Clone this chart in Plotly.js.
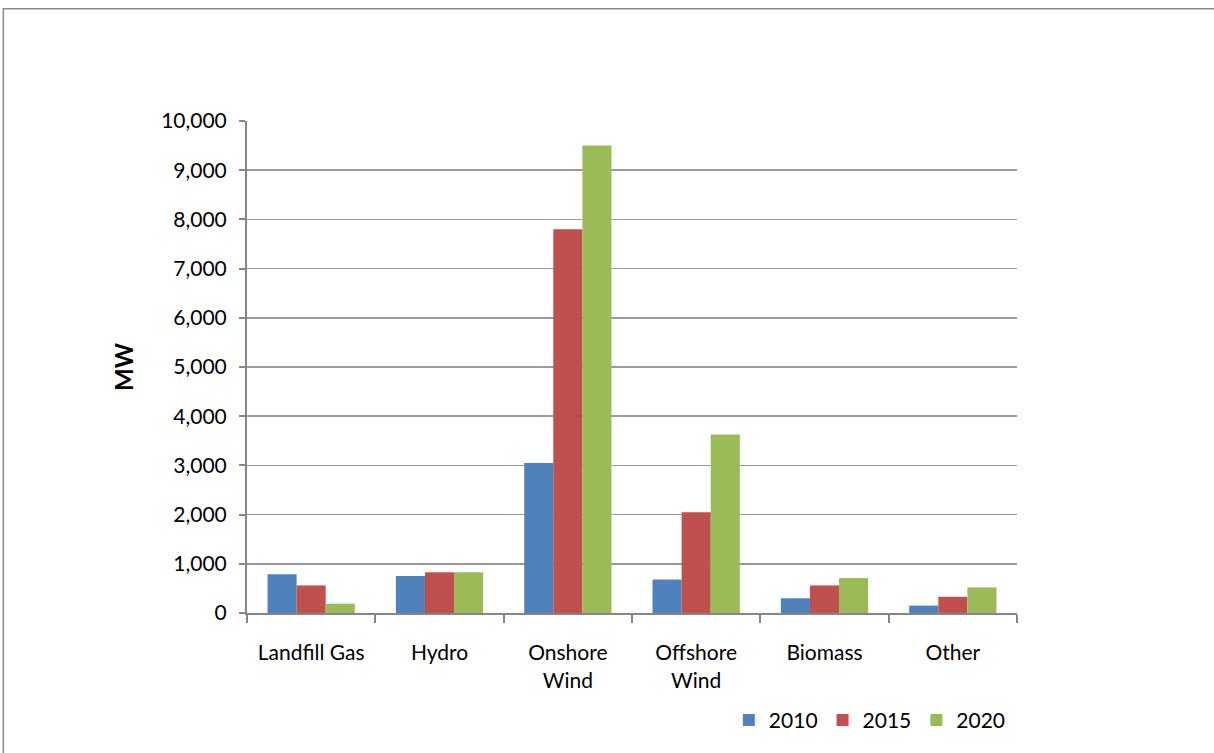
<!DOCTYPE html>
<html>
<head>
<meta charset="utf-8">
<script src="https://cdn.plot.ly/plotly-3.0.1.min.js"></script>
<style>
  html, body { margin: 0; padding: 0; background: #ffffff; }
  #chart { width: 1214px; height: 753px; }
</style>
</head>
<body>
<div id="chart"></div>
<script>
// Installed renewable capacity by technology (MW)
const categories = ["Landfill Gas", "Hydro", "Onshore<br>Wind", "Offshore<br>Wind", "Biomass", "Other"];
const years = ["2010", "2015", "2020"];
const mw2010 = [790, 750, 3050, 680, 300, 150];
const mw2015 = [560, 830, 7800, 2050, 560, 330];
const mw2020 = [190, 830, 9500, 3630, 710, 520];
const yTicks = [0, 1000, 2000, 3000, 4000, 5000, 6000, 7000, 8000, 9000, 10000];

const seriesValues = [mw2010, mw2015, mw2020];
const seriesColors = ["#4F81BD", "#C0504D", "#9BBB59"];

const font = { family: "Lato, 'Open Sans', sans-serif", size: 21, color: "#000000" };

const traces = years.map((yr, i) => ({
  type: "bar",
  name: yr,
  x: categories,
  y: seriesValues[i],
  marker: { color: seriesColors[i], line: { width: 0 } },
  hoverinfo: "x+y+name"
}));

const layout = {
  width: 1214,
  height: 753,
  margin: { l: 247, r: 197, t: 121, b: 140 },
  paper_bgcolor: "#ffffff",
  plot_bgcolor: "#ffffff",
  font: font,
  barmode: "group",
  bargap: 0.32,
  bargroupgap: 0,
  showlegend: true,
  legend: {
    orientation: "h",
    x: 0.992,
    xanchor: "right",
    y: -0.218,
    yanchor: "middle",
    font: font,
    itemwidth: 30,
    traceorder: "normal"
  },
  xaxis: {
    type: "category",
    showline: true,
    linecolor: "#868686",
    linewidth: 2,
    ticks: "outside",
    tickson: "boundaries",
    ticklen: 8,
    tickwidth: 2,
    tickcolor: "#868686",
    showgrid: false,
    zeroline: false,
    tickfont: font,
    ticklabelstandoff: 20,
    automargin: false
  },
  yaxis: {
    range: [0, 10000],
    tickvals: yTicks,
    tickformat: ",d",
    showline: true,
    linecolor: "#868686",
    linewidth: 2,
    ticks: "outside",
    ticklen: 6,
    tickwidth: 2,
    tickcolor: "#868686",
    showgrid: true,
    gridcolor: "#9a9a9a",
    gridwidth: 1.6,
    zeroline: false,
    tickfont: font,
    ticklabelstandoff: 8,
    automargin: false,
    title: {
      text: "<b>MW</b>",
      font: { family: "Lato, 'Open Sans', sans-serif", size: 24, color: "#000000" },
      standoff: 21
    }
  },
  shapes: [{
    type: "rect",
    xref: "paper",
    yref: "paper",
    x0: -0.3165,
    x1: 1.4,
    y0: -0.6,
    y1: 1.228,
    line: { color: "#8c8c8c", width: 1.5 },
    fillcolor: "rgba(0,0,0,0)",
    layer: "below"
  }]
};

Plotly.newPlot("chart", traces, layout, { displayModeBar: false, staticPlot: true });
</script>
</body>
</html>
